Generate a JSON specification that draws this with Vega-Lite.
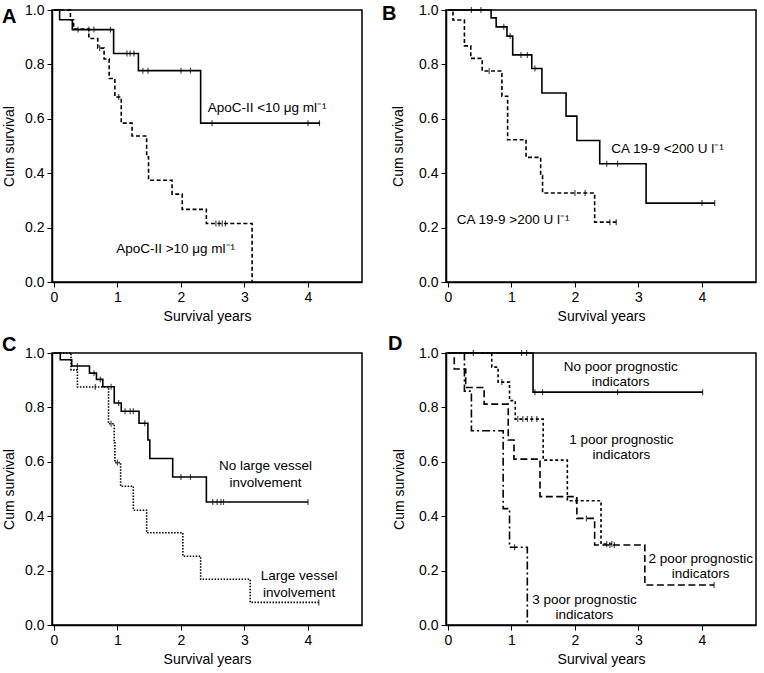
{
  "$schema": "https://vega.github.io/schema/vega-lite/v6.json",
  "padding": {"left": 1, "top": 2, "right": 2, "bottom": 0},
  "background": "white",
  "config": {
    "font": "Liberation Sans",
    "view": {"stroke": "black", "strokeWidth": 1.5},
    "axis": {"grid": false, "domainColor": "black", "tickColor": "black", "labelColor": "black", "titleColor": "black", "labelFont": "Liberation Sans", "titleFont": "Liberation Sans", "labelFontSize": 14, "titleFontSize": 14, "titleFontWeight": "normal", "tickSize": 5, "labelPadding": 3, "domainWidth": 1.5},
    "title": {"font": "Liberation Sans", "fontSize": 20, "fontWeight": "bold", "color": "black", "anchor": "start", "frame": "group", "baseline": "alphabetic", "offset": 0},
    "line": {"interpolate": "step-after", "color": "black", "strokeWidth": 1.6},
    "tick": {"orient": "vertical", "size": 6, "thickness": 1.2, "color": "black"},
    "text": {"baseline": "middle", "fontSize": 13.5, "color": "black", "lineBreak": "\n"}
  },
  "datasets": {
    "curves": [
      {"p":"A","g":"ApoC-II <10","t":0,"s":1},{"p":"A","g":"ApoC-II <10","t":0.09,"s":0.964},{"p":"A","g":"ApoC-II <10","t":0.29,"s":0.928},{"p":"A","g":"ApoC-II <10","t":0.94,"s":0.84},{"p":"A","g":"ApoC-II <10","t":1.33,"s":0.777},{"p":"A","g":"ApoC-II <10","t":2.31,"s":0.584},{"p":"A","g":"ApoC-II <10","t":4.19,"s":0.584},
      {"p":"A","g":"ApoC-II >10","t":0,"s":1},{"p":"A","g":"ApoC-II >10","t":0.26,"s":0.964},{"p":"A","g":"ApoC-II >10","t":0.31,"s":0.93},{"p":"A","g":"ApoC-II >10","t":0.55,"s":0.895},{"p":"A","g":"ApoC-II >10","t":0.69,"s":0.86},{"p":"A","g":"ApoC-II >10","t":0.79,"s":0.82},{"p":"A","g":"ApoC-II >10","t":0.87,"s":0.748},{"p":"A","g":"ApoC-II >10","t":0.96,"s":0.68},{"p":"A","g":"ApoC-II >10","t":1.06,"s":0.584},{"p":"A","g":"ApoC-II >10","t":1.23,"s":0.537},{"p":"A","g":"ApoC-II >10","t":1.46,"s":0.46},{"p":"A","g":"ApoC-II >10","t":1.49,"s":0.374},{"p":"A","g":"ApoC-II >10","t":1.86,"s":0.323},{"p":"A","g":"ApoC-II >10","t":2.02,"s":0.267},{"p":"A","g":"ApoC-II >10","t":2.4,"s":0.215},{"p":"A","g":"ApoC-II >10","t":3.12,"s":0},
      {"p":"B","g":"CA 19-9 <200","t":0,"s":1},{"p":"B","g":"CA 19-9 <200","t":0.68,"s":0.971},{"p":"B","g":"CA 19-9 <200","t":0.76,"s":0.938},{"p":"B","g":"CA 19-9 <200","t":0.93,"s":0.904},{"p":"B","g":"CA 19-9 <200","t":1.02,"s":0.835},{"p":"B","g":"CA 19-9 <200","t":1.32,"s":0.785},{"p":"B","g":"CA 19-9 <200","t":1.48,"s":0.695},{"p":"B","g":"CA 19-9 <200","t":1.86,"s":0.61},{"p":"B","g":"CA 19-9 <200","t":2.03,"s":0.52},{"p":"B","g":"CA 19-9 <200","t":2.39,"s":0.435},{"p":"B","g":"CA 19-9 <200","t":3.12,"s":0.29},{"p":"B","g":"CA 19-9 <200","t":4.2,"s":0.29},
      {"p":"B","g":"CA 19-9 >200","t":0,"s":1},{"p":"B","g":"CA 19-9 >200","t":0.08,"s":0.963},{"p":"B","g":"CA 19-9 >200","t":0.26,"s":0.868},{"p":"B","g":"CA 19-9 >200","t":0.36,"s":0.822},{"p":"B","g":"CA 19-9 >200","t":0.54,"s":0.776},{"p":"B","g":"CA 19-9 >200","t":0.85,"s":0.683},{"p":"B","g":"CA 19-9 >200","t":0.94,"s":0.523},{"p":"B","g":"CA 19-9 >200","t":1.23,"s":0.458},{"p":"B","g":"CA 19-9 >200","t":1.46,"s":0.392},{"p":"B","g":"CA 19-9 >200","t":1.49,"s":0.327},{"p":"B","g":"CA 19-9 >200","t":2.31,"s":0.22},{"p":"B","g":"CA 19-9 >200","t":2.65,"s":0.22},
      {"p":"C","g":"No large vessel","t":0,"s":1},{"p":"C","g":"No large vessel","t":0.1,"s":0.975},{"p":"C","g":"No large vessel","t":0.28,"s":0.952},{"p":"C","g":"No large vessel","t":0.56,"s":0.926},{"p":"C","g":"No large vessel","t":0.67,"s":0.903},{"p":"C","g":"No large vessel","t":0.77,"s":0.876},{"p":"C","g":"No large vessel","t":0.95,"s":0.816},{"p":"C","g":"No large vessel","t":1.06,"s":0.786},{"p":"C","g":"No large vessel","t":1.34,"s":0.742},{"p":"C","g":"No large vessel","t":1.48,"s":0.68},{"p":"C","g":"No large vessel","t":1.51,"s":0.612},{"p":"C","g":"No large vessel","t":1.87,"s":0.544},{"p":"C","g":"No large vessel","t":2.4,"s":0.452},{"p":"C","g":"No large vessel","t":4.0,"s":0.452},
      {"p":"C","g":"Large vessel","t":0,"s":1},{"p":"C","g":"Large vessel","t":0.27,"s":0.938},{"p":"C","g":"Large vessel","t":0.37,"s":0.875},{"p":"C","g":"Large vessel","t":0.86,"s":0.74},{"p":"C","g":"Large vessel","t":0.95,"s":0.67},{"p":"C","g":"Large vessel","t":0.96,"s":0.597},{"p":"C","g":"Large vessel","t":1.05,"s":0.51},{"p":"C","g":"Large vessel","t":1.25,"s":0.422},{"p":"C","g":"Large vessel","t":1.46,"s":0.339},{"p":"C","g":"Large vessel","t":2.03,"s":0.253},{"p":"C","g":"Large vessel","t":2.31,"s":0.168},{"p":"C","g":"Large vessel","t":3.09,"s":0.083},{"p":"C","g":"Large vessel","t":4.17,"s":0.083},
      {"p":"D","g":"0 poor","t":0,"s":1},{"p":"D","g":"0 poor","t":1.34,"s":0.856},{"p":"D","g":"0 poor","t":4.01,"s":0.856},
      {"p":"D","g":"1 poor","t":0,"s":1},{"p":"D","g":"1 poor","t":0.69,"s":0.948},{"p":"D","g":"1 poor","t":0.79,"s":0.893},{"p":"D","g":"1 poor","t":0.97,"s":0.825},{"p":"D","g":"1 poor","t":1.06,"s":0.757},{"p":"D","g":"1 poor","t":1.5,"s":0.606},{"p":"D","g":"1 poor","t":1.88,"s":0.457},{"p":"D","g":"1 poor","t":2.41,"s":0.298},{"p":"D","g":"1 poor","t":2.62,"s":0.298},
      {"p":"D","g":"2 poor","t":0,"s":1},{"p":"D","g":"2 poor","t":0.1,"s":0.941},{"p":"D","g":"2 poor","t":0.28,"s":0.873},{"p":"D","g":"2 poor","t":0.57,"s":0.812},{"p":"D","g":"2 poor","t":0.95,"s":0.68},{"p":"D","g":"2 poor","t":1.04,"s":0.61},{"p":"D","g":"2 poor","t":1.45,"s":0.472},{"p":"D","g":"2 poor","t":2.03,"s":0.392},{"p":"D","g":"2 poor","t":2.31,"s":0.294},{"p":"D","g":"2 poor","t":3.1,"s":0.147},{"p":"D","g":"2 poor","t":4.19,"s":0.147},
      {"p":"D","g":"3 poor","t":0,"s":1},{"p":"D","g":"3 poor","t":0.26,"s":0.86},{"p":"D","g":"3 poor","t":0.37,"s":0.714},{"p":"D","g":"3 poor","t":0.87,"s":0.428},{"p":"D","g":"3 poor","t":0.97,"s":0.286},{"p":"D","g":"3 poor","t":1.25,"s":0}
    ],
    "censored": [
      {"p":"A","g":"ApoC-II <10","t":0.38,"s":0.928},{"p":"A","g":"ApoC-II <10","t":0.55,"s":0.928},{"p":"A","g":"ApoC-II <10","t":0.63,"s":0.928},{"p":"A","g":"ApoC-II <10","t":0.89,"s":0.928},{"p":"A","g":"ApoC-II <10","t":1.15,"s":0.84},{"p":"A","g":"ApoC-II <10","t":1.2,"s":0.84},{"p":"A","g":"ApoC-II <10","t":1.26,"s":0.84},{"p":"A","g":"ApoC-II <10","t":1.4,"s":0.777},{"p":"A","g":"ApoC-II <10","t":1.48,"s":0.777},{"p":"A","g":"ApoC-II <10","t":2.0,"s":0.777},{"p":"A","g":"ApoC-II <10","t":2.15,"s":0.777},{"p":"A","g":"ApoC-II <10","t":2.49,"s":0.584},{"p":"A","g":"ApoC-II <10","t":4.0,"s":0.584},{"p":"A","g":"ApoC-II <10","t":4.18,"s":0.584},
      {"p":"A","g":"ApoC-II >10","t":0.72,"s":0.86},{"p":"A","g":"ApoC-II >10","t":1.02,"s":0.68},{"p":"A","g":"ApoC-II >10","t":2.55,"s":0.215},{"p":"A","g":"ApoC-II >10","t":2.6,"s":0.215},{"p":"A","g":"ApoC-II >10","t":2.65,"s":0.215},{"p":"A","g":"ApoC-II >10","t":2.7,"s":0.215},
      {"p":"B","g":"CA 19-9 <200","t":0.37,"s":1},{"p":"B","g":"CA 19-9 <200","t":0.52,"s":1},{"p":"B","g":"CA 19-9 <200","t":0.88,"s":0.938},{"p":"B","g":"CA 19-9 <200","t":0.98,"s":0.904},{"p":"B","g":"CA 19-9 <200","t":1.15,"s":0.835},{"p":"B","g":"CA 19-9 <200","t":1.25,"s":0.835},{"p":"B","g":"CA 19-9 <200","t":1.37,"s":0.785},{"p":"B","g":"CA 19-9 <200","t":2.5,"s":0.435},{"p":"B","g":"CA 19-9 <200","t":2.67,"s":0.435},{"p":"B","g":"CA 19-9 <200","t":4.0,"s":0.29},{"p":"B","g":"CA 19-9 <200","t":4.2,"s":0.29},
      {"p":"B","g":"CA 19-9 >200","t":0.65,"s":0.776},{"p":"B","g":"CA 19-9 >200","t":2.0,"s":0.327},{"p":"B","g":"CA 19-9 >200","t":2.16,"s":0.327},{"p":"B","g":"CA 19-9 >200","t":2.55,"s":0.22},{"p":"B","g":"CA 19-9 >200","t":2.65,"s":0.22},
      {"p":"C","g":"No large vessel","t":0.37,"s":0.952},{"p":"C","g":"No large vessel","t":0.63,"s":0.926},{"p":"C","g":"No large vessel","t":0.73,"s":0.903},{"p":"C","g":"No large vessel","t":0.9,"s":0.876},{"p":"C","g":"No large vessel","t":1.02,"s":0.816},{"p":"C","g":"No large vessel","t":1.12,"s":0.786},{"p":"C","g":"No large vessel","t":1.2,"s":0.786},{"p":"C","g":"No large vessel","t":1.25,"s":0.786},{"p":"C","g":"No large vessel","t":1.43,"s":0.742},{"p":"C","g":"No large vessel","t":2.0,"s":0.544},{"p":"C","g":"No large vessel","t":2.15,"s":0.544},{"p":"C","g":"No large vessel","t":2.5,"s":0.452},{"p":"C","g":"No large vessel","t":2.57,"s":0.452},{"p":"C","g":"No large vessel","t":2.63,"s":0.452},{"p":"C","g":"No large vessel","t":2.67,"s":0.452},{"p":"C","g":"No large vessel","t":4.0,"s":0.452},
      {"p":"C","g":"Large vessel","t":0.65,"s":0.875},{"p":"C","g":"Large vessel","t":0.9,"s":0.74},{"p":"C","g":"Large vessel","t":1.0,"s":0.597},{"p":"C","g":"Large vessel","t":4.17,"s":0.083},
      {"p":"D","g":"0 poor","t":0.4,"s":1},{"p":"D","g":"0 poor","t":1.16,"s":1},{"p":"D","g":"0 poor","t":1.24,"s":1},{"p":"D","g":"0 poor","t":1.37,"s":0.856},{"p":"D","g":"0 poor","t":1.49,"s":0.856},{"p":"D","g":"0 poor","t":2.67,"s":0.856},{"p":"D","g":"0 poor","t":4.01,"s":0.856},
      {"p":"D","g":"1 poor","t":0.85,"s":0.893},{"p":"D","g":"1 poor","t":1.1,"s":0.757},{"p":"D","g":"1 poor","t":1.18,"s":0.757},{"p":"D","g":"1 poor","t":1.25,"s":0.757},{"p":"D","g":"1 poor","t":1.32,"s":0.757},{"p":"D","g":"1 poor","t":1.4,"s":0.757},{"p":"D","g":"1 poor","t":2.02,"s":0.457},{"p":"D","g":"1 poor","t":2.5,"s":0.298},{"p":"D","g":"1 poor","t":2.58,"s":0.298},
      {"p":"D","g":"2 poor","t":2.18,"s":0.392},{"p":"D","g":"2 poor","t":2.55,"s":0.294},{"p":"D","g":"2 poor","t":2.62,"s":0.294},{"p":"D","g":"2 poor","t":4.19,"s":0.147},
      {"p":"D","g":"3 poor","t":1.05,"s":0.286}
    ],
    "labels": [
      {"p":"A","t":2.42,"s":0.64,"label":"ApoC-II <10 μg ml⁻¹"},
      {"p":"A","t":0.98,"s":0.12,"label":"ApoC-II >10 μg ml⁻¹"},
      {"p":"B","t":2.57,"s":0.49,"label":"CA 19-9 <200 U l⁻¹"},
      {"p":"B","t":0.14,"s":0.229,"label":"CA 19-9 >200 U l⁻¹"},
      {"p":"C","t":3.33,"s":0.585,"label":"No large vessel\ninvolvement"},
      {"p":"C","t":3.86,"s":0.18,"label":"Large vessel\ninvolvement"},
      {"p":"D","t":2.72,"s":0.947,"label":"No poor prognostic\nindicators"},
      {"p":"D","t":2.73,"s":0.68,"label":"1 poor prognostic\nindicators"},
      {"p":"D","t":3.98,"s":0.243,"label":"2 poor prognostic\nindicators"},
      {"p":"D","t":2.15,"s":0.093,"label":"3 poor prognostic\nindicators"}
    ]
  },
  "columns": 2,
  "spacing": {"row": 71, "column": 84},
  "bounds": "flush",
  "concat": [
    {
      "width": 310, "height": 272,
      "title": {"text": "A", "dx": -50, "dy": 28},
      "encoding": {
        "x": {"field": "t", "type": "quantitative", "scale": {"domain": [-0.03, 4.85], "nice": false, "zero": false}, "axis": {"values": [0,1,2,3,4], "format": "d", "title": "Survival years", "titlePadding": 5}},
        "y": {"field": "s", "type": "quantitative", "scale": {"domain": [0, 1], "nice": false}, "axis": {"values": [0,0.2,0.4,0.6,0.8,1], "format": ".1f", "title": "Cum survival", "titlePadding": 8}}
      },
      "layer": [
        {"data": {"name": "curves"}, "transform": [{"filter": "datum.g === 'ApoC-II <10'"}], "mark": {"type": "line"}, "encoding": {}},
        {"data": {"name": "curves"}, "transform": [{"filter": "datum.g === 'ApoC-II >10'"}], "mark": {"type": "line", "strokeDash": [4, 2.5]}, "encoding": {}},
        {"data": {"name": "censored"}, "transform": [{"filter": "datum.p === 'A'"}], "mark": {"type": "tick"}, "encoding": {}},
        {"data": {"name": "labels"}, "transform": [{"filter": "datum.p === 'A'"}], "mark": {"type": "text", "align": "left", "lineHeight": 16}, "encoding": {"text": {"field": "label"}}}
      ]
    },
    {
      "width": 310, "height": 272,
      "title": {"text": "B", "dx": -64, "dy": 25},
      "encoding": {
        "x": {"field": "t", "type": "quantitative", "scale": {"domain": [-0.03, 4.85], "nice": false, "zero": false}, "axis": {"values": [0,1,2,3,4], "format": "d", "title": "Survival years", "titlePadding": 5}},
        "y": {"field": "s", "type": "quantitative", "scale": {"domain": [0, 1], "nice": false}, "axis": {"values": [0,0.2,0.4,0.6,0.8,1], "format": ".1f", "title": "Cum survival", "titlePadding": 13}}
      },
      "layer": [
        {"data": {"name": "curves"}, "transform": [{"filter": "datum.g === 'CA 19-9 <200'"}], "mark": {"type": "line"}, "encoding": {}},
        {"data": {"name": "curves"}, "transform": [{"filter": "datum.g === 'CA 19-9 >200'"}], "mark": {"type": "line", "strokeDash": [4, 2.5]}, "encoding": {}},
        {"data": {"name": "censored"}, "transform": [{"filter": "datum.p === 'B'"}], "mark": {"type": "tick"}, "encoding": {}},
        {"data": {"name": "labels"}, "transform": [{"filter": "datum.p === 'B'"}], "mark": {"type": "text", "align": "left", "lineHeight": 16}, "encoding": {"text": {"field": "label"}}}
      ]
    },
    {
      "width": 310, "height": 272,
      "title": {"text": "C", "dx": -50, "dy": 13},
      "encoding": {
        "x": {"field": "t", "type": "quantitative", "scale": {"domain": [-0.03, 4.85], "nice": false, "zero": false}, "axis": {"values": [0,1,2,3,4], "format": "d", "title": "Survival years", "titlePadding": 5}},
        "y": {"field": "s", "type": "quantitative", "scale": {"domain": [0, 1], "nice": false}, "axis": {"values": [0,0.2,0.4,0.6,0.8,1], "format": ".1f", "title": "Cum survival", "titlePadding": 8}}
      },
      "layer": [
        {"data": {"name": "curves"}, "transform": [{"filter": "datum.g === 'No large vessel'"}], "mark": {"type": "line"}, "encoding": {}},
        {"data": {"name": "curves"}, "transform": [{"filter": "datum.g === 'Large vessel'"}], "mark": {"type": "line", "strokeDash": [1.5, 1.5]}, "encoding": {}},
        {"data": {"name": "censored"}, "transform": [{"filter": "datum.p === 'C'"}], "mark": {"type": "tick"}, "encoding": {}},
        {"data": {"name": "labels"}, "transform": [{"filter": "datum.p === 'C'"}], "mark": {"type": "text", "align": "center", "lineHeight": 17}, "encoding": {"text": {"field": "label"}}}
      ]
    },
    {
      "width": 310, "height": 272,
      "title": {"text": "D", "dx": -58, "dy": 12},
      "encoding": {
        "x": {"field": "t", "type": "quantitative", "scale": {"domain": [-0.03, 4.85], "nice": false, "zero": false}, "axis": {"values": [0,1,2,3,4], "format": "d", "title": "Survival years", "titlePadding": 5}},
        "y": {"field": "s", "type": "quantitative", "scale": {"domain": [0, 1], "nice": false}, "axis": {"values": [0,0.2,0.4,0.6,0.8,1], "format": ".1f", "title": "Cum survival", "titlePadding": 12}}
      },
      "layer": [
        {"data": {"name": "curves"}, "transform": [{"filter": "datum.g === '0 poor'"}], "mark": {"type": "line"}, "encoding": {}},
        {"data": {"name": "curves"}, "transform": [{"filter": "datum.g === '1 poor'"}], "mark": {"type": "line", "strokeDash": [3, 2.5]}, "encoding": {}},
        {"data": {"name": "curves"}, "transform": [{"filter": "datum.g === '2 poor'"}], "mark": {"type": "line", "strokeDash": [7, 3.5]}, "encoding": {}},
        {"data": {"name": "curves"}, "transform": [{"filter": "datum.g === '3 poor'"}], "mark": {"type": "line", "strokeDash": [8, 3, 2, 3]}, "encoding": {}},
        {"data": {"name": "censored"}, "transform": [{"filter": "datum.p === 'D'"}], "mark": {"type": "tick"}, "encoding": {}},
        {"data": {"name": "labels"}, "transform": [{"filter": "datum.p === 'D'"}], "mark": {"type": "text", "align": "center", "lineHeight": 15}, "encoding": {"text": {"field": "label"}}}
      ]
    }
  ]
}
